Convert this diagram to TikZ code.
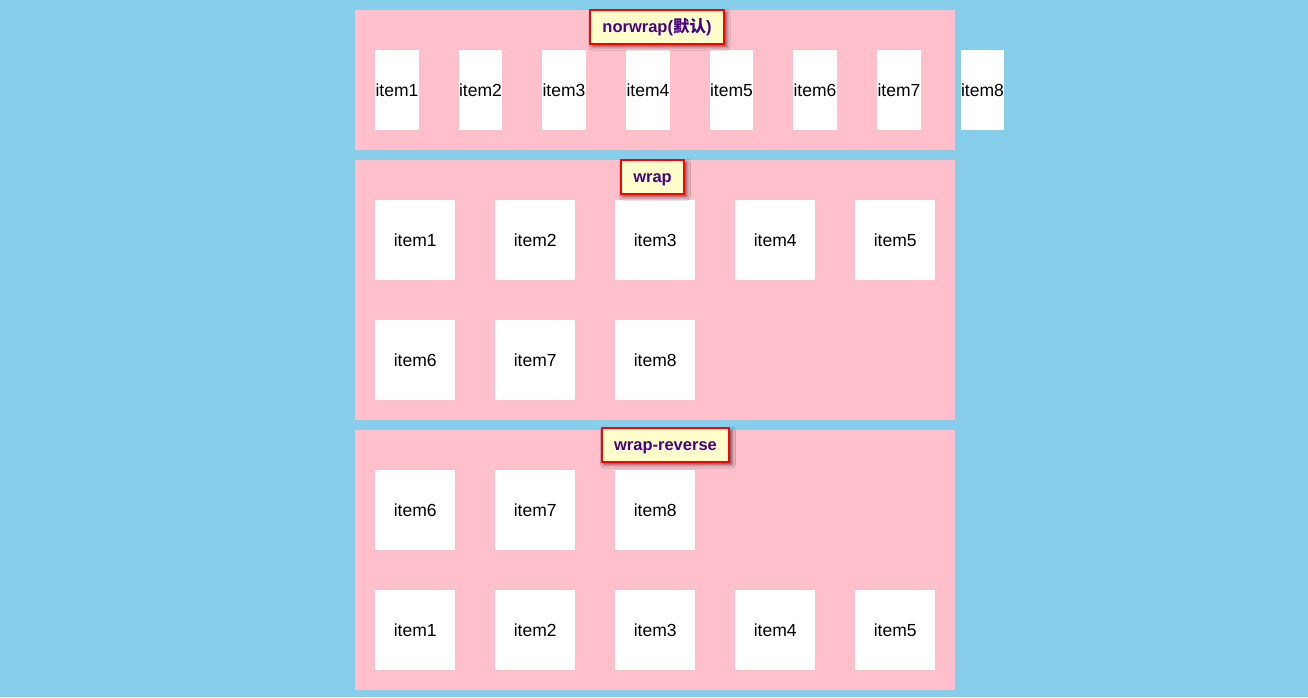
\documentclass[tikz,border=0pt]{standalone}
\usepackage{fontspec}
\setmainfont{Liberation Sans}
\newfontfamily\cjk{Noto Sans CJK SC}
\usetikzlibrary{shadows.blur}
\definecolor{sky}{HTML}{87CEEB}
\definecolor{pinkbg}{HTML}{FFC0CB}
\definecolor{titlefill}{HTML}{FFFFCC}
\definecolor{titletext}{HTML}{4B0082}
\definecolor{titleborder}{HTML}{FF0000}
\tikzset{
  panel/.style={fill=pinkbg, draw=none},
  itembox/.style={fill=white, draw=none, inner sep=0pt, minimum width=80pt, minimum height=80pt, font=\fontsize{17.5}{20}\selectfont, text=black},
  narrowitem/.style={itembox, minimum width=43.5pt},
  titlebox/.style={fill=titlefill, draw=titleborder, line width=2pt, inner xsep=12.5pt, inner ysep=0pt, text height=13pt, text depth=2pt, minimum height=34pt, text=titletext, font=\bfseries\fontsize{16.5}{18}\selectfont, blur shadow={shadow xshift=2.5pt, shadow yshift=-3pt, shadow blur radius=3.5pt, shadow blur steps=6, shadow opacity=65}}
}
\begin{document}
\begin{tikzpicture}[x=1pt, y=-1pt]
\useasboundingbox (0,0) rectangle (1308,697);
\fill[sky] (0,0) rectangle (1308,697);
% panels
\node[panel, minimum width=600pt, minimum height=140pt, anchor=north west, inner sep=0pt] (p1) at (355,10) {};
\node[panel, minimum width=600pt, minimum height=260pt, anchor=north west, inner sep=0pt] (p2) at (355,160) {};
\node[panel, minimum width=600pt, minimum height=260pt, anchor=north west, inner sep=0pt] (p3) at (355,430) {};
% panel 1 items
\foreach \i/\x in {1/375,2/458.5,3/542,4/626,5/709.5,6/793,7/877,8/960.5}{
  \node[narrowitem, anchor=north west] (a\i) at (\x,50) {item\i};
}
% panel 2 items
\foreach \i/\x in {1/375,2/495,3/615,4/735,5/855}{
  \node[itembox, anchor=north west] (b\i) at (\x,200) {item\i};
}
\foreach \i/\x in {6/375,7/495,8/615}{
  \node[itembox, anchor=north west] (b\i) at (\x,320) {item\i};
}
% panel 3 items
\foreach \i/\x in {6/375,7/495,8/615}{
  \node[itembox, anchor=north west] (c\i) at (\x,470) {item\i};
}
\foreach \i/\x in {1/375,2/495,3/615,4/735,5/855}{
  \node[itembox, anchor=north west] (c\i) at (\x,590) {item\i};
}
% titles
\node[titlebox] (t1) at (657,26.5) {norwrap({\cjk 默认})};
\node[titlebox] (t2) at (652.5,176.5) {wrap};
\node[titlebox] (t3) at (665.5,444.5) {wrap-reverse};
\end{tikzpicture}
\end{document}
